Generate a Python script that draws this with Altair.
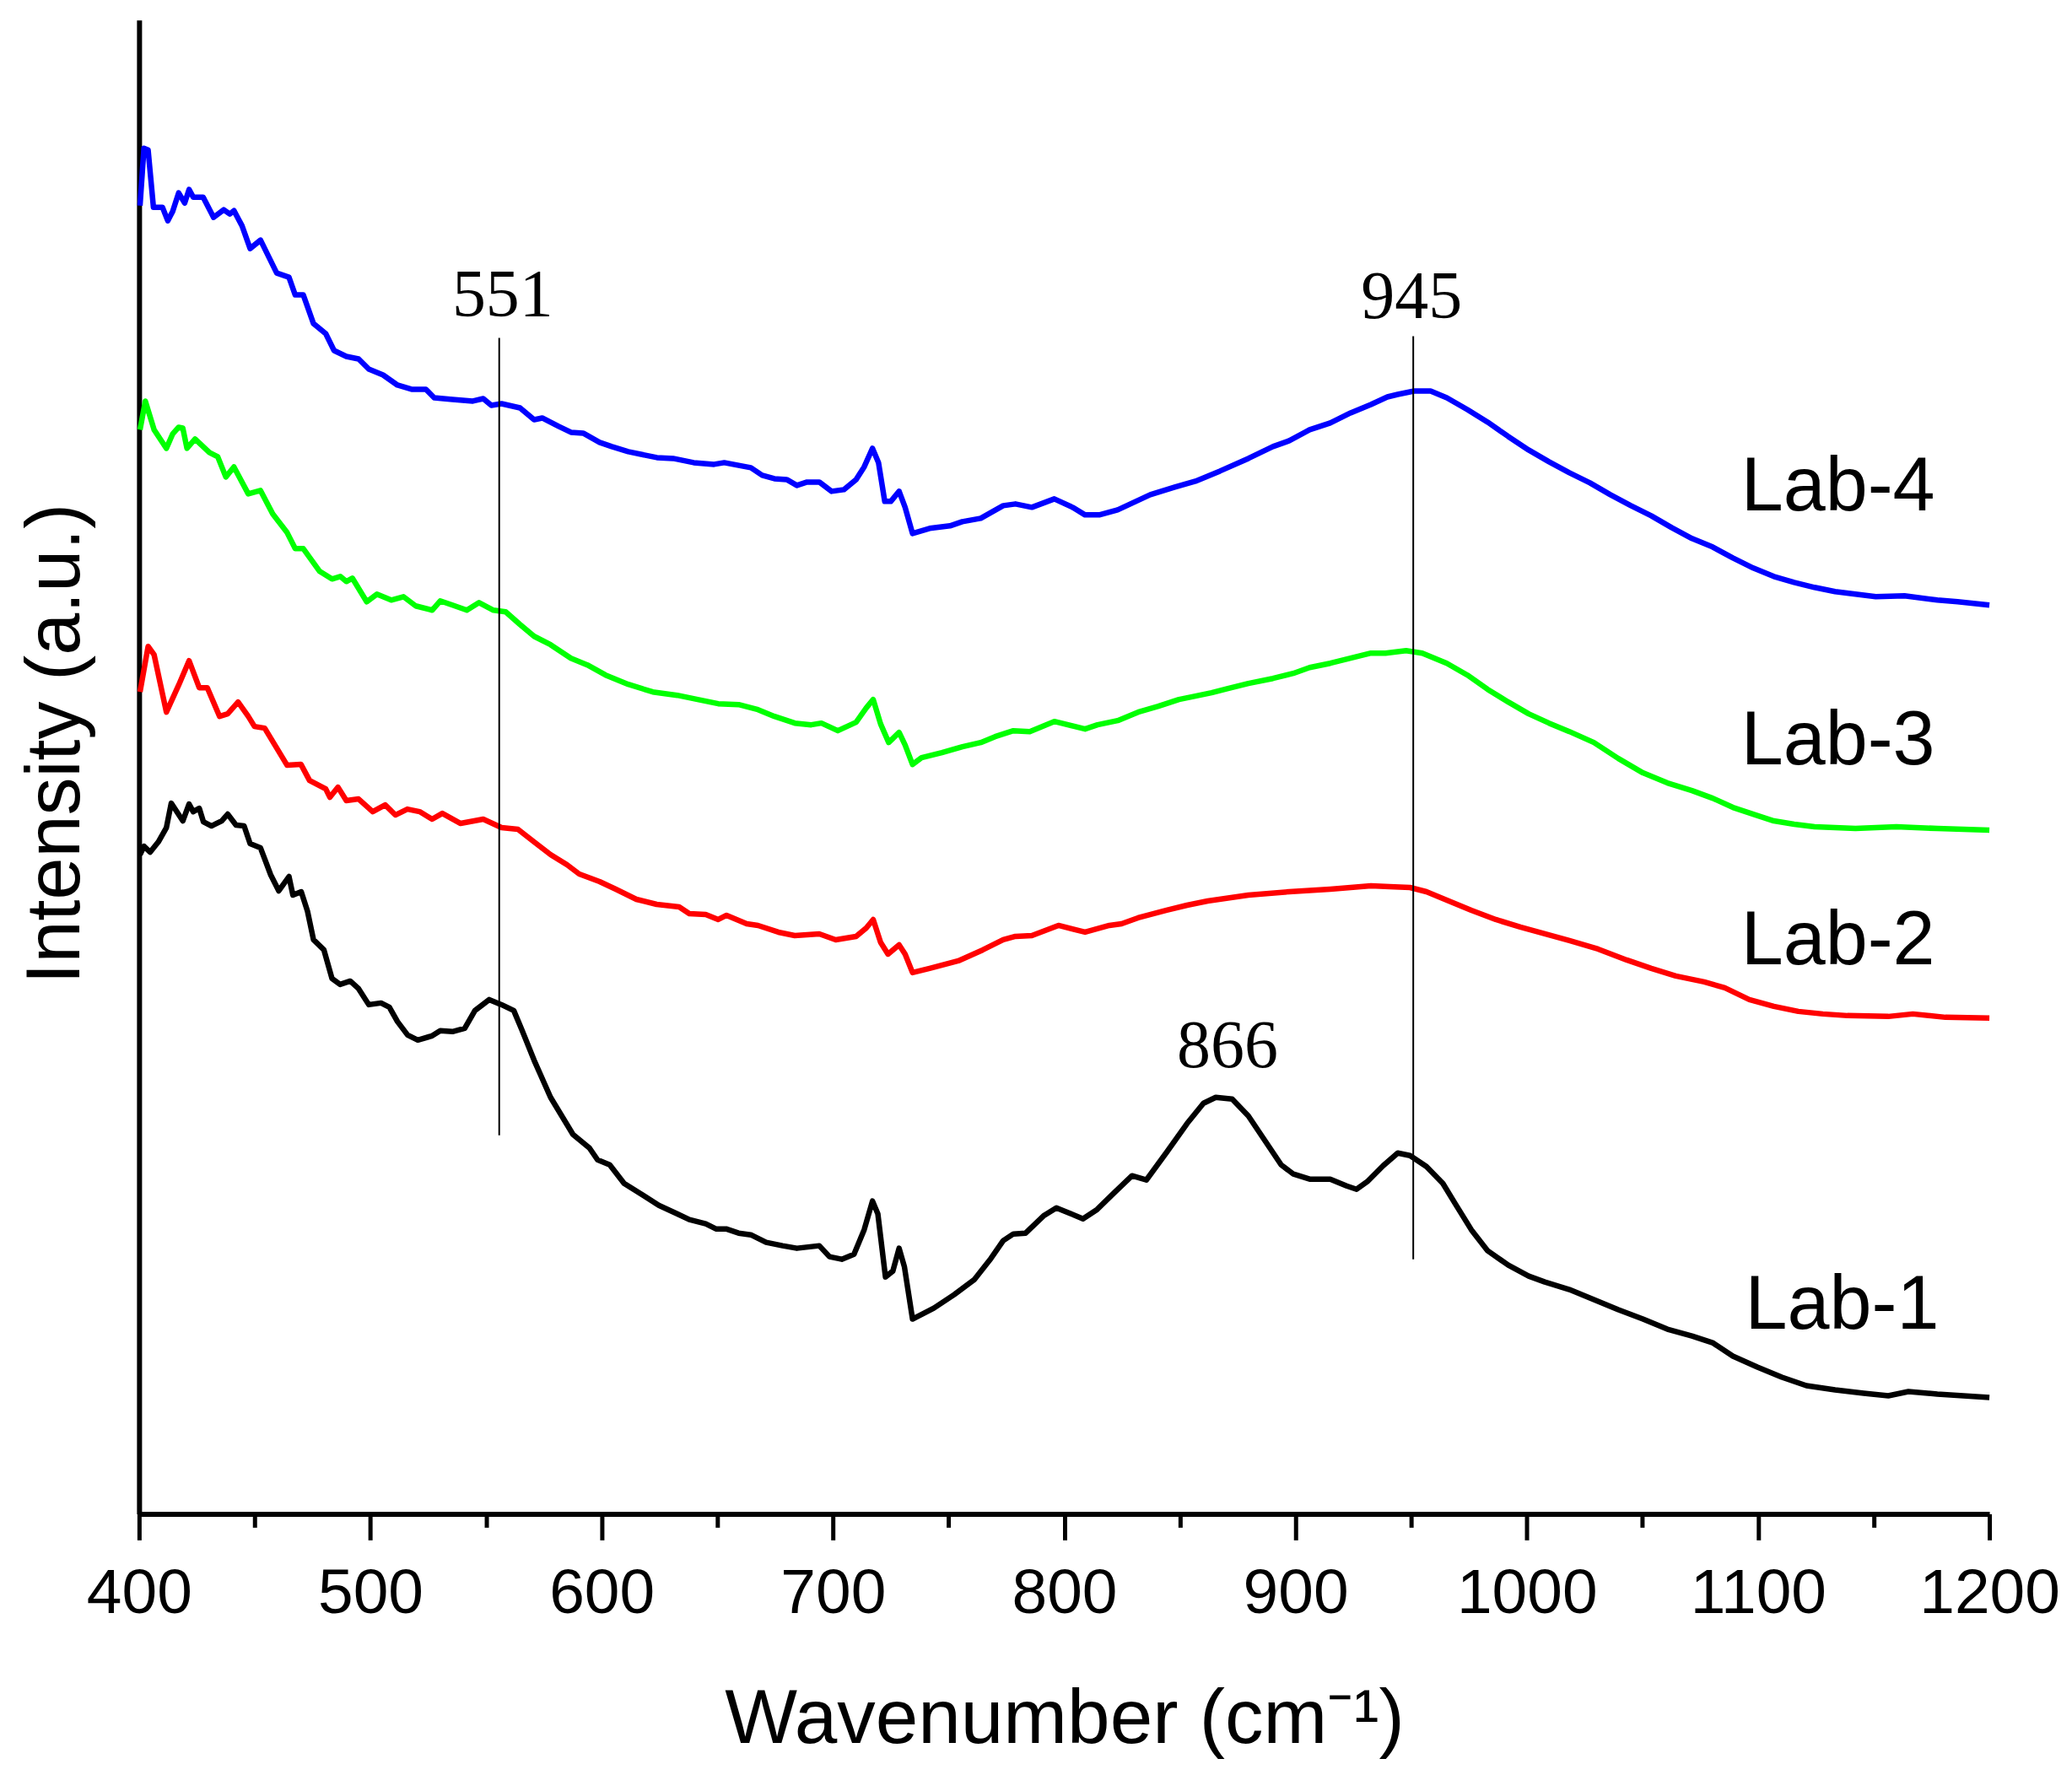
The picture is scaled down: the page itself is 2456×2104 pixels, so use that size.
import pandas as pd
import altair as alt

# Lab-1 (black)
lab1_x = [400.4, 402.1, 404.8, 408.3, 411.8, 413.9, 418.9, 421.6, 423.4, 426, 427.8, 431.3, 435.7,
          438.3, 441.9, 445.4, 448, 452.5, 456.9, 460.4, 464.8, 466.5, 470.1, 472.8, 475.4, 479.9,
          483.4, 486.9, 491.3, 494.9, 499.3, 504.6, 508.2, 511.7, 516.1, 520.5, 526.7, 530.2, 535.5,
          540.8, 545.2, 551.4, 556.7, 562, 565.5, 570.8, 577.9, 587.6, 594.7, 598.2, 603.5, 609.7,
          616.7, 624.7, 632.6, 637.9, 645, 649.4, 653.8, 659.2, 664.5, 671.1, 678.2, 684.4, 694.1,
          698.5, 703.8, 709.1, 713.5, 717.1, 719.4, 722.7, 725.9, 728.6, 730.9, 734.4, 743.6, 752.4,
          761.2, 768.3, 773.6, 778, 783.3, 791.3, 796.6, 802, 808.1, 814.2, 821.3, 829.3, 835.5,
          844.3, 853.1, 860.2, 865.5, 872.6, 879.6, 886.7, 893.8, 899.1, 906.1, 915, 922.1, 926.4,
          931, 937.9, 944.2, 949.5, 956.6, 963.7, 969, 976, 983.1, 992, 1000.8, 1007.8, 1018.4,
          1029, 1039.6, 1050.2, 1060.8, 1071.4, 1080.3, 1089.1, 1099.7, 1110.3, 1120.9, 1133.3,
          1145.7, 1156.3, 1165, 1177.5, 1200]
lab1_y = [782, 792, 785, 797, 814, 843, 822, 842, 833, 837, 821, 816, 822,
          830, 817, 816, 795, 790, 758, 739, 756, 734, 738, 715, 681, 669,
          635, 628, 632, 623, 604, 606, 601, 584, 568, 562, 567, 573, 572,
          576, 597, 610, 604, 597, 574, 538, 494, 450, 434, 420, 414, 392,
          380, 366, 356, 349, 344, 338, 338, 333, 331, 322, 318, 315, 318,
          305, 302, 308, 337, 371, 356, 281, 288, 315, 293, 231, 244, 260,
          278, 303, 324, 332, 333, 354, 363, 357, 350, 361, 380, 401, 396,
          429, 463, 487, 494, 492, 472, 443, 414, 403, 397, 397, 389, 385,
          394, 413, 428, 425, 412, 392, 368, 337, 312, 295, 282, 275, 266,
          254, 242, 231, 219, 211, 203, 187, 174, 162, 152, 147,
          143, 140, 145, 142, 138]

# Lab-2 (red)
lab2_x = [400.4, 403.9, 406.5, 411.8, 417.1, 421.6, 426, 429.5, 434.8, 438.3, 442.8, 447.2, 449.9,
          454.3, 459.6, 464, 470, 473.7, 480.7, 482.5, 486, 489.6, 494.9, 501, 506.4, 510.8, 516,
          521.3, 526.7, 531.1, 539, 548.8, 556.7, 563.8, 570.8, 577.9, 585, 590.3, 599.1, 606.1,
          615, 623.8, 633.5, 637.9, 645, 650.4, 654, 662.7, 667.6, 676.4, 683.5, 694.1, 701.2, 710,
          714.4, 717.4, 720.6, 723.8, 728.6, 731.2, 734.4, 741.8, 754.2, 764.8, 773.6, 778.9, 786,
          797.5, 809, 819.5, 824.8, 831.9, 844.3, 853.1, 862, 879.6, 897.3, 915, 932.6, 940.7,
          949.5, 956.6, 965.4, 976, 986.6, 997.2, 1007.8, 1018.4, 1030.8, 1043.2, 1053.8, 1064.4,
          1076.7, 1085.6, 1096.2, 1106.8, 1117.4, 1128, 1138.6, 1156.3, 1166.9, 1181, 1200]
lab2_y = [975, 1029, 1019, 951, 983, 1012, 980, 980, 946, 949, 963, 946, 934,
          932, 908, 888, 889, 870, 860, 850, 862, 846, 848, 833, 841, 829, 836,
          833, 824, 831, 819, 824, 814, 812, 797, 782, 770, 759, 750, 741,
          729, 723, 720, 712, 711, 705, 710, 700, 698, 690, 686, 688, 681, 685,
          695, 705, 678, 664, 675, 664, 642, 647, 656, 669, 681, 685, 686,
          698, 690, 698, 700, 707, 716, 722, 727, 734, 738, 741, 745, 744,
          743, 738, 728, 716, 705, 696, 688, 680, 670, 657, 647, 638,
          631, 624, 610, 602, 596, 593, 591, 590, 593, 589, 588]

# Lab-3 (green)
lab3_x = [400.4, 402.7, 406.5, 411.8, 414.5, 417.1, 418.9, 420.7, 424.2, 430.4, 434, 437.5, 441,
          447.2, 452.5, 457.8, 464, 467.5, 471, 478.1, 483.4, 487, 489.6, 492.2, 498.4, 502.8, 509,
          514.3, 519.6, 526.7, 530.2, 535.5, 541.7, 547, 553.2, 558.5, 564.7, 570.8, 577.9, 586.7,
          593.8, 601.7, 611.5, 622.1, 632.7, 641.5, 650.4, 659.2, 667.6, 674.7, 683.5, 690.6, 695,
          702.1, 710, 714.4, 717.4, 720.6, 724.1, 728.6, 731.2, 734.4, 738.3, 747.1, 756, 763.9,
          770.1, 778, 785.1, 795.7, 809, 814.4, 823.1, 831.9, 840.7, 849.6, 856.7, 863.7, 870.8,
          879.6, 890.2, 899, 906.1, 915, 923.8, 932.6, 938.9, 947.8, 954.8, 965.4, 974.3, 983.1,
          992, 1000.8, 1009.6, 1018.4, 1029, 1039.6, 1050.2, 1060.8, 1071.4, 1080.3, 1089.1,
          1097.9, 1106.8, 1115.6, 1124.4, 1142.1, 1159.8, 1177.5, 1200]
lab3_y = [1286, 1320, 1286, 1264, 1281, 1289, 1288, 1264, 1275, 1259, 1254, 1230, 1242,
          1210, 1214, 1186, 1164, 1145, 1145, 1118, 1109, 1112, 1106, 1110, 1082, 1091, 1084,
          1088, 1077, 1072, 1083, 1078, 1072, 1081, 1072, 1070, 1055, 1041, 1031, 1015,
          1007, 995, 984, 975, 971, 966, 961, 960, 954, 946, 938, 936, 938,
          929, 939, 956, 966, 937, 915, 927, 912, 889, 897, 903, 910, 915,
          922, 929, 928, 940, 931, 936, 941, 951, 958, 966, 970, 974, 979,
          985, 991, 997, 1004, 1009, 1015, 1021, 1021, 1024, 1021, 1009, 995, 978,
          963, 949, 938, 928, 915, 896, 879, 867, 858, 849, 838,
          830, 822, 818, 815, 813, 815, 813, 811]

# Lab-4 (blue)
lab4_x = [400.4, 402.1, 403.9, 406.2, 410.1, 412.4, 414.5, 417.1, 419.7, 421.6, 423.4, 427.7, 432.2,
          436.6, 439.2, 441, 444.5, 448, 452.5, 459.5, 464.8, 467.5, 471, 475.4, 480.7, 484.3,
          489.6, 494.9, 499.3, 505.5, 511.7, 517.8, 524, 527.6, 535.5, 544.3, 548.8, 552.3, 556.7,
          564.7, 570.8, 574.3, 581.4, 586.7, 592, 599.1, 604.4, 611.5, 623.9, 630.9, 639.8, 648.6,
          653, 664.5, 669.4, 674.7, 680, 684.4, 688.8, 694.1, 699.4, 704.7, 710, 713.5, 717.1,
          719.7, 722.4, 725, 728.6, 731.2, 734.4, 741.8, 750.6, 755.9, 763.9, 773.6, 778.9, 786,
          795.7, 803.6, 809, 815.1, 823.1, 837.2, 847.8, 856.7, 867.3, 879.6, 890.2, 897.3, 906.1,
          915, 923.8, 932.6, 939.7, 944.2, 951.3, 958.4, 965.4, 974.3, 983.1, 992, 1000.8, 1009.6,
          1018.4, 1027.3, 1036.1, 1045, 1053.8, 1062.6, 1071.4, 1080.3, 1089.1, 1097.9, 1106.8,
          1115.6, 1124.4, 1133.3, 1142.1, 1150.9, 1163.3, 1177.5, 1186.3, 1200]
lab4_y = [1552, 1620, 1618, 1550, 1550, 1534, 1545, 1567, 1555, 1571, 1562, 1562, 1538,
          1547, 1542, 1546, 1528, 1501, 1511, 1472, 1467, 1446, 1446, 1412, 1400, 1380,
          1373, 1370, 1358, 1351, 1339, 1334, 1334, 1324, 1322, 1320, 1323, 1315, 1317,
          1312, 1298, 1300, 1290, 1283, 1282, 1271, 1266, 1260, 1253, 1252, 1247, 1245,
          1247, 1241, 1232, 1228, 1227, 1220, 1224, 1224, 1213, 1215, 1227, 1242, 1264,
          1247, 1201, 1201, 1213, 1194, 1163, 1169, 1172, 1177, 1181, 1196, 1198, 1194,
          1204, 1194, 1185, 1185, 1191, 1209, 1218, 1225, 1237, 1252, 1266, 1273, 1286,
          1294, 1306, 1316, 1325, 1328, 1332, 1332, 1324, 1310, 1295, 1278, 1262, 1248,
          1235, 1223, 1209, 1196, 1184, 1170, 1157, 1147, 1134, 1122, 1112,
          1105, 1099, 1094, 1091, 1088, 1089, 1084, 1082, 1078]

samples = ["Lab-1", "Lab-2", "Lab-3", "Lab-4"]
colors = ["#000000", "#ff0000", "#00ff00", "#0000ff"]

# sample names at the right end
name_x = [1094.4, 1092.6, 1092.6, 1092.6]
name_y = [220, 652, 889, 1190]

# peak marks
peak_text = ["551", "945", "866"]
peak_text_x = [557.2, 950.2, 870.6]
peak_text_y = [1421, 1419, 530]
peak_line_x = [555.7, 950.9]
peak_line_y1 = [449, 302]
peak_line_y2 = [1395, 1397]

x_ticks = list(range(400, 1201, 50))

frames = []
for name, xs, ys in zip(samples, [lab1_x, lab2_x, lab3_x, lab4_x], [lab1_y, lab2_y, lab3_y, lab4_y]):
    frames.append(pd.DataFrame({"wn": xs, "intensity": ys, "sample": name}))
df = pd.concat(frames, ignore_index=True)

df_names = pd.DataFrame({"wn": name_x, "intensity": name_y, "label": samples})
df_peaks = pd.DataFrame({"wn": peak_text_x, "intensity": peak_text_y, "label": peak_text})
df_rules = pd.DataFrame({"wn": peak_line_x, "intensity": peak_line_y1, "intensity2": peak_line_y2})

x_title = "Wavenumber (cm\u207b\u00b9)"
y_title = "Intensity (a.u.)"

x_enc = alt.X(
    "wn:Q",
    title=x_title,
    scale=alt.Scale(domain=[400, 1200], nice=False, zero=False),
    axis=alt.Axis(
        values=x_ticks,
        format="d",
        labelExpr="datum.value % 100 === 0 ? datum.label : ''",
        grid=False,
        domainColor="black", domainWidth=6,
        tickColor="black", tickWidth=5,
        tickSize={"condition": {"test": "datum.value % 100 === 0", "value": 31}, "value": 16},
        labelFont="Liberation Sans", labelFontSize=75, labelColor="black",
        labelPadding=27, labelFlush=False, labelOverlap=False, labelBound=False, labelLimit=0,
        titleFont="Liberation Sans", titleFontSize=91, titleFontWeight="normal",
        titleColor="black", titleY=199, titleBaseline="top",
    ),
)
y_enc = alt.Y(
    "intensity:Q",
    title=y_title,
    scale=alt.Scale(domain=[0, 1772], nice=False, zero=False),
    axis=alt.Axis(
        labels=False, ticks=False, grid=False,
        domainColor="black", domainWidth=6,
        titleFont="Liberation Sans", titleFontSize=90, titleFontWeight="normal",
        titleColor="black", titleAngle=270, titleAlign="center",
        titleBaseline="alphabetic", titleX=-71, titleY=858,
    ),
)

lines = alt.Chart(df).mark_line(strokeWidth=6.5, strokeJoin="round").encode(
    x_enc, y_enc,
    color=alt.Color("sample:N", scale=alt.Scale(domain=samples, range=colors), legend=None),
)

rules = alt.Chart(df_rules).mark_rule(color="black", strokeWidth=2).encode(
    x=alt.X("wn:Q", title=x_title), y=alt.Y("intensity:Q", title=y_title), y2="intensity2:Q"
)

peaks = alt.Chart(df_peaks).mark_text(
    font="Liberation Serif", fontSize=80, color="black", align="center", baseline="alphabetic"
).encode(x=alt.X("wn:Q", title=x_title), y=alt.Y("intensity:Q", title=y_title), text="label:N")

names = alt.Chart(df_names).mark_text(
    font="Liberation Sans", fontSize=90, color="black", align="left", baseline="alphabetic"
).encode(x=alt.X("wn:Q", title=x_title), y=alt.Y("intensity:Q", title=y_title), text="label:N")

chart = alt.layer(lines, rules, peaks, names).properties(
    width=2195,
    height=1772,
    autosize=alt.AutoSizeParams(type="none"),
    padding={"left": 157, "top": 15, "right": 90, "bottom": 290},
    background="white",
).configure_view(stroke=None)

chart.save("out.html", embed_options={"renderer": "svg", "actions": False})
